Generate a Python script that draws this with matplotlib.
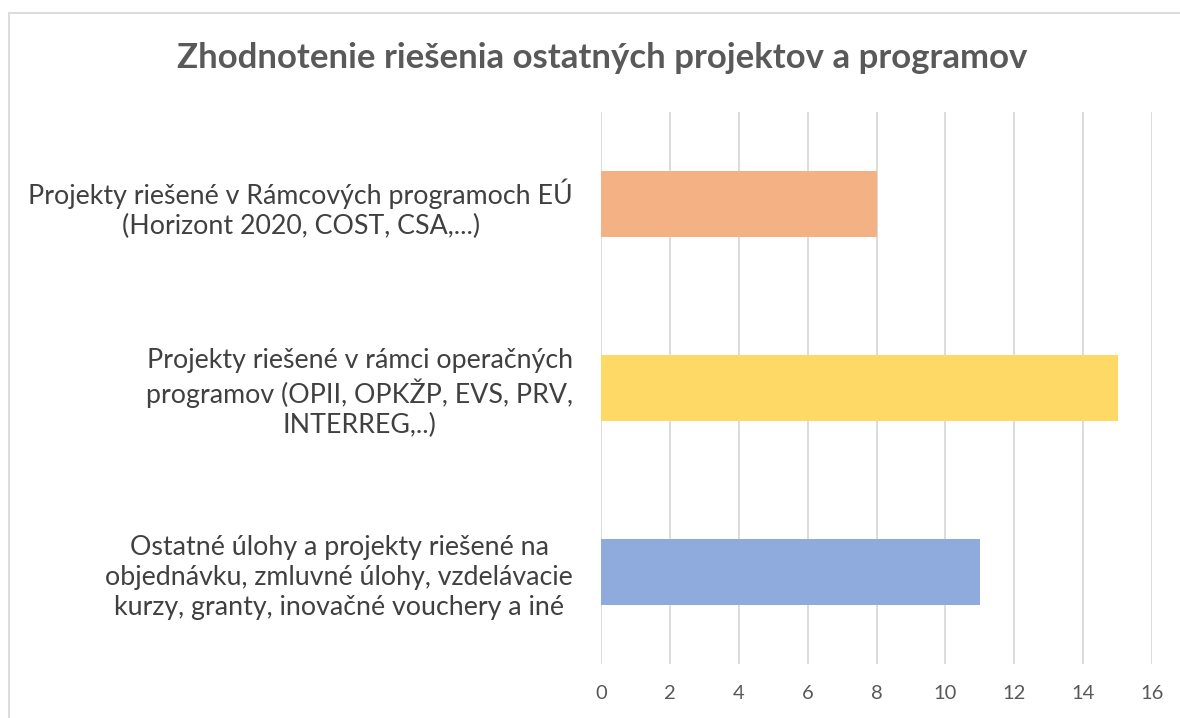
import numpy as np
import matplotlib.pyplot as plt
from matplotlib.patches import Rectangle

categories = [
    "Ostatné úlohy a projekty riešené na\nobjednávku, zmluvné úlohy, vzdelávacie\nkurzy, granty, inovačné vouchery a iné",
    "Projekty riešené v rámci operačných\nprogramov (OPII, OPKŽP, EVS, PRV,\nINTERREG,..)",
    "Projekty riešené v Rámcových programoch EÚ\n(Horizont 2020, COST, CSA,...)",
]
values = [11, 15, 8]
colors = ["#8faadc", "#ffd966", "#f4b183"]
xticks = [0, 2, 4, 6, 8, 10, 12, 14, 16]
title = "Zhodnotenie riešenia ostatných projektov a programov"

plt.rcParams['font.family'] = ['Lato', 'DejaVu Sans']

W, H = 1180, 718
fig = plt.figure(figsize=(W / 100, H / 100), dpi=100)
ax = fig.add_axes([601 / W, 1 - 664 / H, (1152 - 601) / W, (664 - 112) / H])

y = np.arange(len(categories))
ax.barh(y, values, height=0.36, color=colors, zorder=3)
ax.set_ylim(-0.5, 2.5)
ax.set_xlim(0, 16)
ax.set_xticks(xticks)
ax.set_xticklabels([str(t) for t in xticks], fontsize=14.5, color="#595959")
ax.set_yticks(y)
ax.set_yticklabels(categories, fontsize=19.3, color="#404040", multialignment="center",
                   linespacing=1.25)
ax.tick_params(axis="y", length=0, pad=20)
ax.tick_params(axis="x", length=0, pad=15)
ax.grid(axis="x", color="#d9d9d9", linewidth=1.3, zorder=0)
for s in ax.spines.values():
    s.set_visible(False)

fig.text(602 / W, 1 - 58 / H, title, ha="center", va="center",
         fontsize=25, fontweight="bold", color="#595959")

fig.patches.append(Rectangle((9 / W, -0.1), 1.2, 1 - 13 / H + 0.1, transform=fig.transFigure,
                             fill=False, edgecolor="#d9d9d9", linewidth=1.3))

fig.savefig("out.png", dpi=100)
